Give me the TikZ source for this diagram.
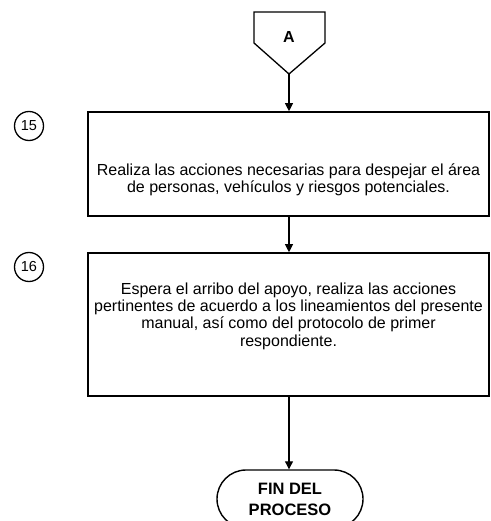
\documentclass[tikz,border=0pt]{standalone}
\usepackage{fontspec}
\setmainfont{Liberation Sans}
\usetikzlibrary{arrows.meta,shapes.misc}
\begin{document}
\begin{tikzpicture}[x=1pt,y=-1pt,
  procbox/.style={draw,line width=1.6pt,minimum width=401pt,inner sep=0pt},
  proctext/.style={align=center,font=\fontsize{16}{17.3}\selectfont,inner sep=0pt},
  stepnum/.style={draw,circle,line width=1.3pt,minimum size=29pt,inner sep=0pt,font=\fontsize{14.5}{16}\selectfont},
  flow/.style={line width=1.1pt,-{Triangle[length=8pt,width=8pt]}},
  endbox/.style={draw,rounded rectangle,line width=1.4pt,minimum width=146pt,minimum height=58pt,align=center,font=\bfseries\fontsize{16.5}{21}\selectfont,inner sep=0pt}]
\useasboundingbox (0,0) rectangle (490,521);
% off-page connector A
\draw[line width=1.3pt] (254,12) -- (325,12) -- (325,43) -- (289,74) -- (254,43) -- cycle;
\coordinate (tipA) at (289,74);
\node[font=\bfseries\fontsize{16}{18}\selectfont] (A) at (289,37) {A};
% step 15
\node[procbox,minimum height=104pt] (b15) at (288.5,164) {};
\node[proctext] (t15) at (288.5,180) {Realiza las acciones necesarias para despejar el área\\de personas, vehículos y riesgos potenciales.};
\node[stepnum] (n15) at (29,126) {15};
% step 16
\node[procbox,minimum height=143pt] (b16) at (288.5,324.5) {};
\node[proctext] (t16) at (288.5,316) {Espera el arribo del apoyo, realiza las acciones\\pertinentes de acuerdo a los lineamientos del presente\\manual, así como del protocolo de primer\\respondiente.};
\node[stepnum] (n16) at (29,267) {16};
% end
\node[endbox] (fin) at (290,499) {FIN DEL\\PROCESO};
% connectors
\draw[flow] (tipA) -- (b15.north -| tipA);
\draw[flow] (b15.south -| tipA) -- (b16.north -| tipA);
\draw[flow] (b16.south -| tipA) -- (fin.north -| tipA);
\end{tikzpicture}
\end{document}
